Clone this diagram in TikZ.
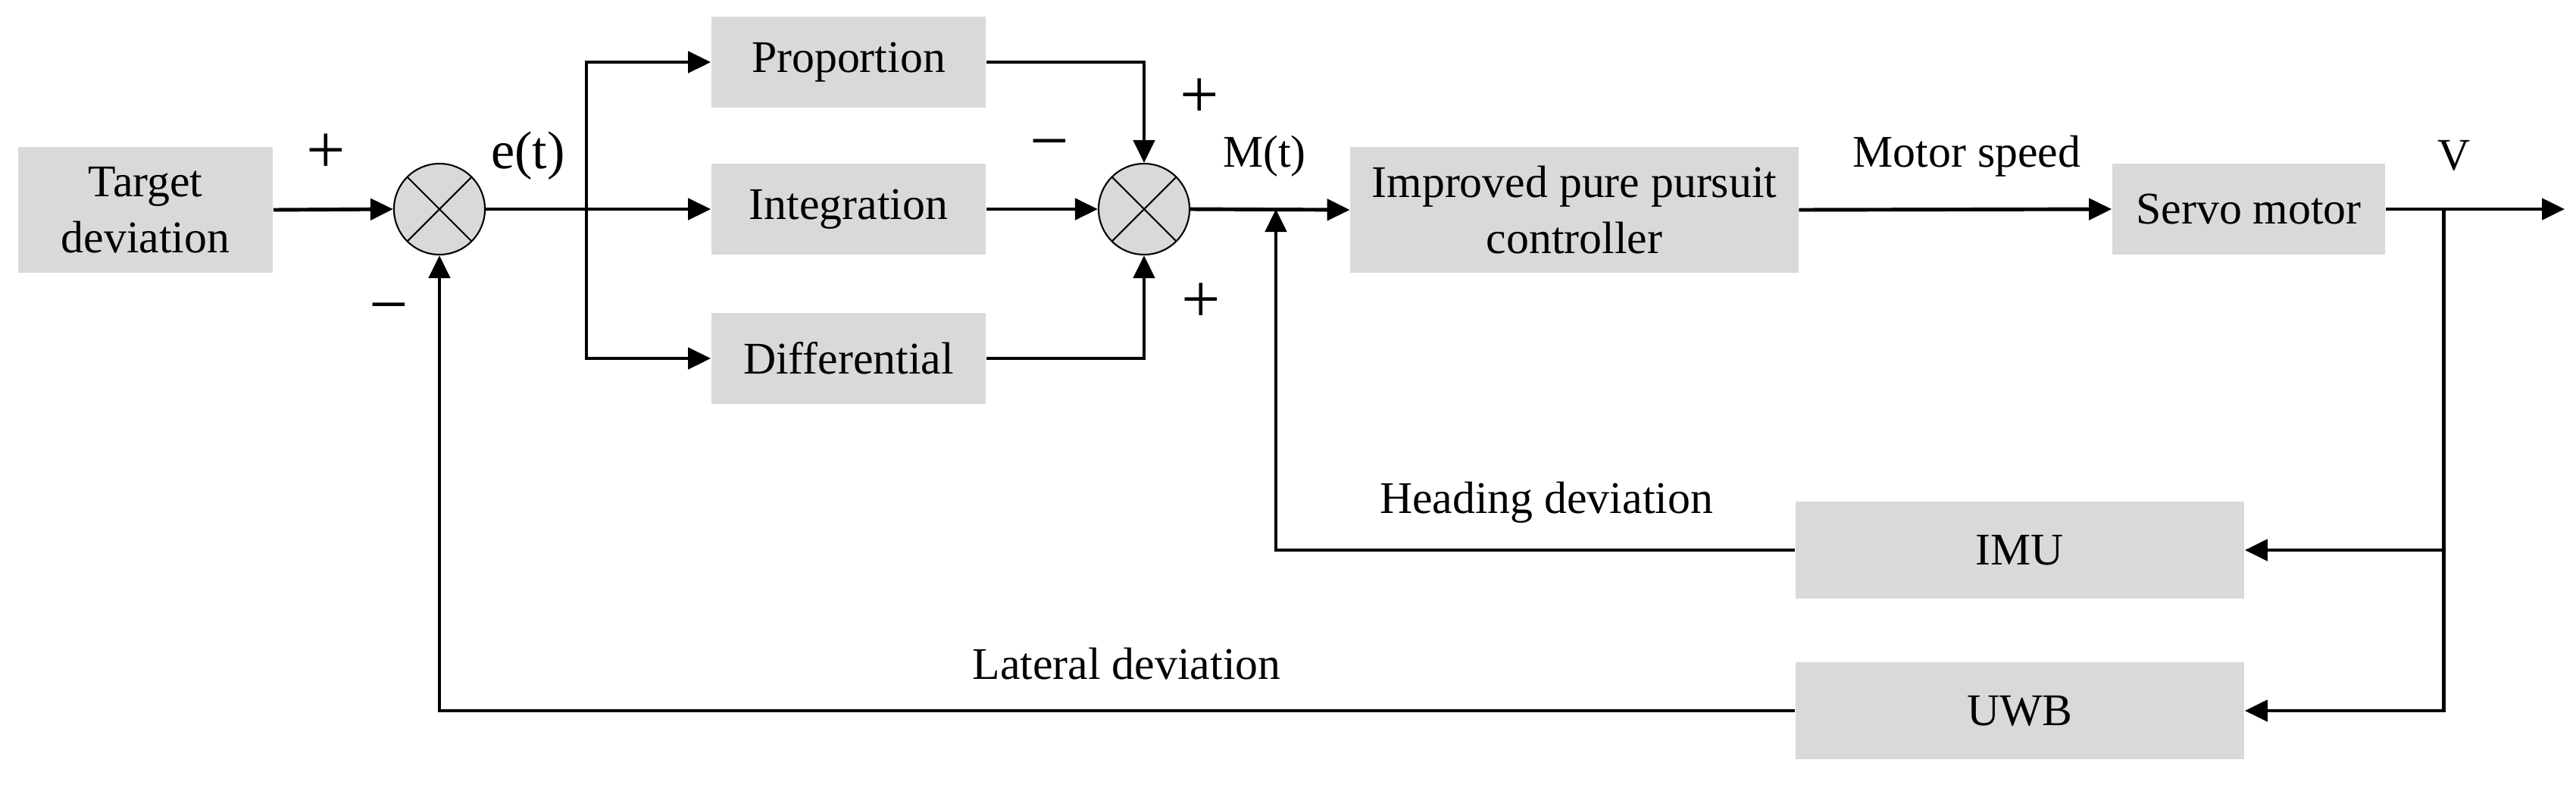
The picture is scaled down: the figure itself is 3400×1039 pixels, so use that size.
\documentclass[tikz,border=0pt]{standalone}
\usepackage{fontspec}
\setmainfont{Liberation Serif}
\usetikzlibrary{arrows.meta}
\definecolor{boxg}{HTML}{D9D9D9}
\begin{document}
\begin{tikzpicture}[x=0.01cm,y=-0.01cm,
  blk/.style={fill=boxg,draw=none,inner sep=0,font=\fontsize{17}{21}\selectfont,align=center},
  sum/.style={circle,draw,fill=boxg,minimum size=1.2cm,inner sep=0,line width=0.6pt,
    path picture={\draw[line width=0.6pt] (path picture bounding box.north west)--(path picture bounding box.south east)
      (path picture bounding box.north east)--(path picture bounding box.south west);}},
  lbl/.style={font=\fontsize{17}{21}\selectfont,inner sep=0},
  sgn/.style={font=\fontsize{26}{28}\selectfont,inner sep=0},
  ar/.style={line width=1.4pt,-{Triangle[length=0.3cm,width=0.28cm]}},
  ln/.style={line width=1.4pt}]
\useasboundingbox (0,0) rectangle (3400,1039);
\node[blk,minimum width=3.36cm,minimum height=1.66cm] (tgt) at (192,277) {Target\\deviation};
\node[sum] (s1) at (580,276) {};
\node[blk,minimum width=3.62cm,minimum height=1.2cm] (p) at (1120,82) {Proportion};
\node[blk,minimum width=3.62cm,minimum height=1.2cm] (i) at (1120,276) {Integration};
\node[blk,minimum width=3.62cm,minimum height=1.2cm] (d) at (1120,473) {Differential};
\node[sum] (s2) at (1510,276) {};
\node[blk,minimum width=5.91cm,minimum height=1.66cm] (ipp) at (2078,277) {Improved pure pursuit\\controller};
\node[blk,minimum width=3.6cm,minimum height=1.2cm] (servo) at (2968,276) {Servo motor};
\node[blk,minimum width=5.92cm,minimum height=1.27cm] (imu) at (2666,726) {IMU};
\node[blk,minimum width=5.92cm,minimum height=1.28cm] (uwb) at (2666,938) {UWB};
\coordinate (br) at (774,276);
\coordinate (mj) at (1684,276);
\coordinate (vs) at (3225,276);
\coordinate (out) at (3385,276);
\draw[ar] (tgt.east) -- (s1.west);
\draw[ln] (s1.east) -- (br);
\draw[ar] (br) -- (i.west);
\draw[ar] (br) |- (p.west);
\draw[ar] (br) |- (d.west);
\draw[ar] (p.east) -| (s2.north);
\draw[ar] (i.east) -- (s2.west);
\draw[ar] (d.east) -| (s2.south);
\draw[ar] (s2.east) -- (ipp.west);
\draw[ar] (ipp.east) -- (servo.west);
\draw[ar] (servo.east) -- (out);
\draw[ar] (vs) |- (imu.east);
\draw[ar] (vs) |- (uwb.east);
\draw[ar] (imu.west) -| (mj);
\draw[ar] (uwb.west) -| (s1.south);
\node[sgn] (p1) at (430,203) {+};
\node[sgn] (m1) at (513,416) {\textminus};
\node[lbl,font=\fontsize{20}{23}\selectfont] (et) at (697,206) {e(t)};
\node[sgn] (p2) at (1583,130) {+};
\node[sgn] (m2) at (1385,200) {\textminus};
\node[sgn] (p3) at (1585,400) {+};
\node[lbl] (mt) at (1669,206) {M(t)};
\node[lbl] (ms) at (2596,206) {Motor speed};
\node[lbl] (v) at (3239,205) {V};
\node[lbl] (hd) at (2041,663) {Heading deviation};
\node[lbl] (ld) at (1487,876) {Lateral deviation};
\end{tikzpicture}
\end{document}
